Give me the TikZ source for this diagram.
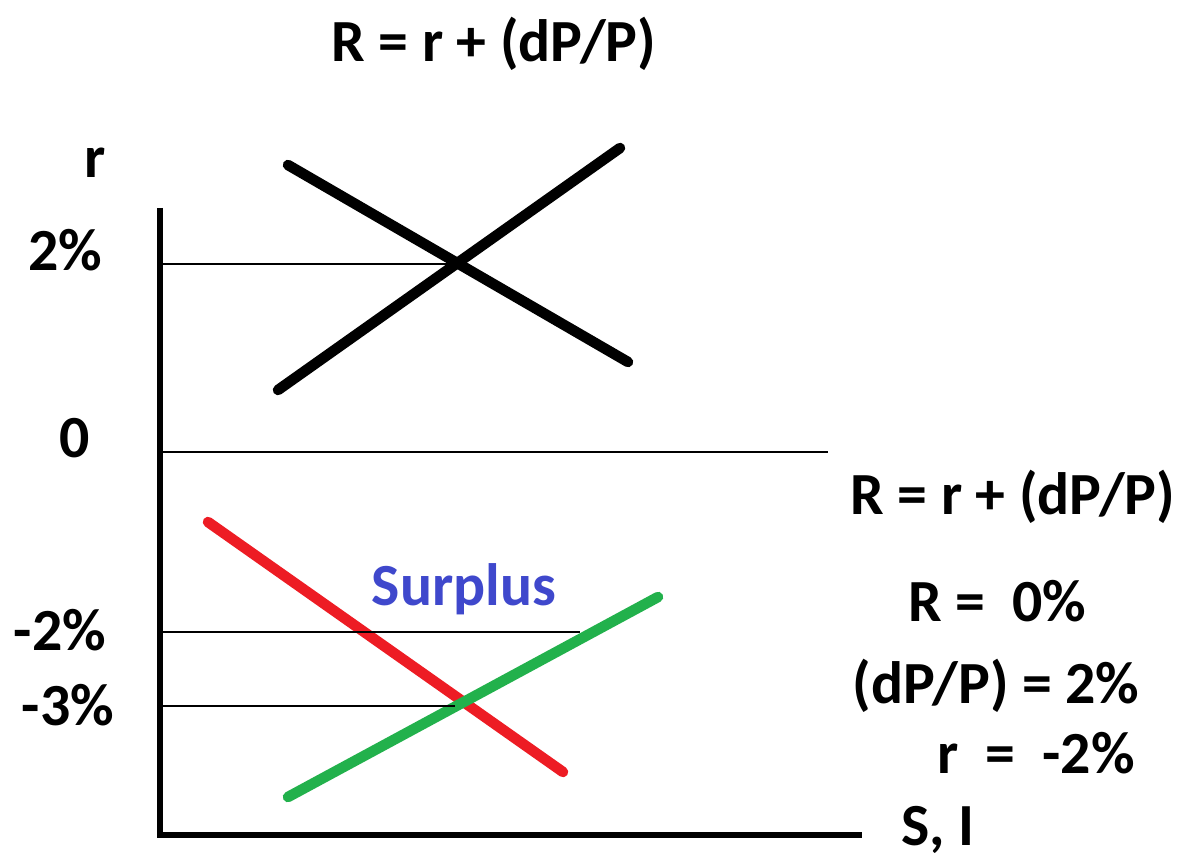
\documentclass[tikz,border=0pt]{standalone}
\usepackage{fontspec}
\setmainfont{Carlito}
\usetikzlibrary{positioning}
\definecolor{paintred}{RGB}{237,28,36}
\definecolor{paintgreen}{RGB}{34,177,76}
\definecolor{paintblue}{RGB}{63,72,204}

\begin{document}
\begin{tikzpicture}[x=0.01cm, y=-0.01cm,
    lbl/.style={font=\fontsize{17}{20}\selectfont\bfseries, inner sep=0pt},
    axis/.style={line width=1.7pt},
    guide/.style={line width=0.45pt},
    curve/.style={line width=3pt, line cap=round}]
    \useasboundingbox (0,0) rectangle (1194,867);

    % Title
    \node[lbl] (title) at (494,44) {R = r + (dP/P)};

    % Axes
    \coordinate (top) at (160,208);
    \coordinate (origin) at (160,835);
    \coordinate (right) at (862,835);
    \draw[axis] (top) -- (origin) -- (right);
    \node[lbl] (rlab) at (95,163) {r};
    \node[lbl] (silab) at (938,830) {S, I};

    % Tick labels
    \node[lbl] (two) at (65,250) {2\%};
    \node[lbl] (zero) at (75,438) {0};
    \node[lbl] (mtwo) at (60,630) {-2\%};
    \node[lbl] (mthree) at (68,705) {-3\%};

    % Upper cross (positive rate)
    \coordinate (sa) at (288,165);
    \coordinate (sb) at (628,362);
    \coordinate (ia) at (278,390);
    \coordinate (ib) at (620,148);
    \draw[curve] (sa) -- (sb);
    \draw[curve] (ia) -- (ib);
    \coordinate (eqtop) at (460,264);

    % Lower cross (negative rate)
    \coordinate (ra) at (208,522);
    \coordinate (rb) at (563,772);
    \coordinate (ga) at (288,797);
    \coordinate (gb) at (658,597);
    \draw[curve, paintred] (ra) -- (rb);
    \draw[curve, paintgreen] (ga) -- (gb);
    \node[lbl, paintblue] (surplus) at (464,589) {Surplus};

    % Guide lines
    \coordinate (g2) at (160,264);
    \coordinate (g0) at (160,452);
    \coordinate (g0e) at (828,452);
    \coordinate (gm2) at (160,632);
    \coordinate (gm2e) at (580,632);
    \coordinate (gm3) at (160,706);
    \coordinate (gm3e) at (455,706);
    \draw[guide] (g2) -- (eqtop);
    \draw[guide] (g0) -- (g0e);
    \draw[guide] (gm2) -- (gm2e);
    \draw[guide] (gm3) -- (gm3e);

    % Right-hand notes
    \node[lbl] (formula) at (1013,497) {R = r + (dP/P)};
    \node[lbl] (nomrate) at (997,601) {R =\ \ 0\%};
    \node[lbl] (infl) at (996,686) {(dP/P) = 2\%};
    \node[lbl] (realrate) at (1036,753) {r\ \ =\ \ -2\%};

\end{tikzpicture}
\end{document}
